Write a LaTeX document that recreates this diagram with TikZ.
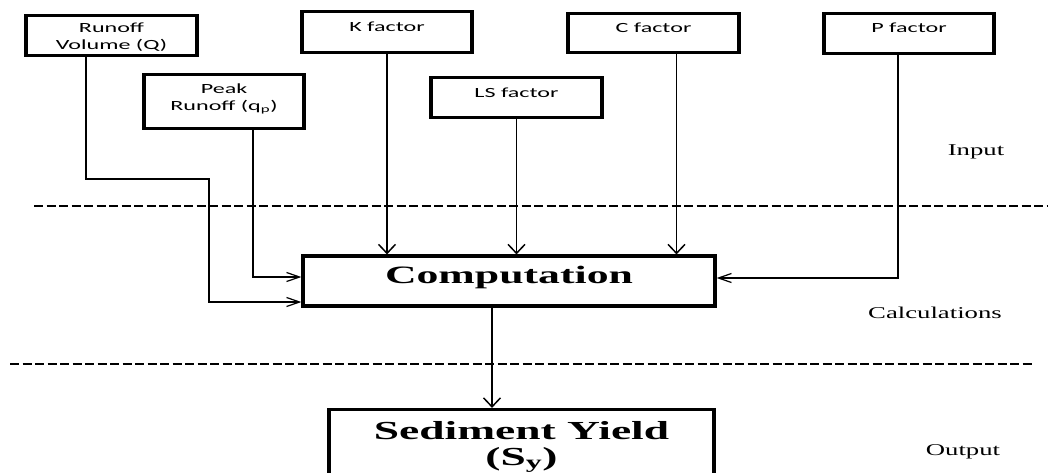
\documentclass[tikz,border=0pt]{standalone}
\usepackage{fontspec}
\usetikzlibrary{arrows.meta,calc}
\newfontfamily\boxfont[FakeStretch=1.72]{Carlito}
\newfontfamily\bigfont[FakeStretch=1.75]{Liberation Serif}
\newfontfamily\tagfont[FakeStretch=1.62]{Liberation Serif}
\begin{document}
\begin{tikzpicture}[x=1pt,y=-1pt,
  box/.style={draw, line width=3.2pt, inner sep=0pt},
  lbl/.style={font=\boxfont\fontsize{14}{17}\selectfont, align=center, anchor=base, inner sep=0pt},
  big/.style={font=\bigfont\bfseries\fontsize{25}{26}\selectfont, align=center, anchor=base, inner sep=0pt},
  tag/.style={font=\tagfont\fontsize{16.5}{20}\selectfont, anchor=base, inner sep=0pt},
  conn/.style={line width=1.5pt},
  varr/.style={conn, -{Straight Barb[length=9pt,width=17pt,line width=1.5pt]}},
  harr/.style={conn, -{Straight Barb[length=13pt,width=9pt,line width=1.2pt]}},
  sep/.style={line width=1.3pt, dash pattern=on 9pt off 3.5pt}]
\useasboundingbox (0,0) rectangle (1048,472);
\fill[white] (0,0) rectangle (1048,472);

% input boxes
\node[box, minimum width=171pt, minimum height=40pt] (rv) at (111.5,35.5) {};
\node[lbl] (rvt) at (111.5,49) {Runoff\\Volume (Q)};
\node[box, minimum width=160pt, minimum height=54pt] (pr) at (224,101.5) {};
\node[lbl] (prt) at (224,110) {Peak\\Runoff (q\textsubscript{p})};
\node[box, minimum width=170pt, minimum height=41pt] (kf) at (387,32) {};
\node[lbl] (kft) at (387,31) {K factor};
\node[box, minimum width=171pt, minimum height=40pt] (ls) at (516.5,97.5) {};
\node[lbl] (lst) at (516.5,97) {LS factor};
\node[box, minimum width=171pt, minimum height=39pt] (cf) at (653.5,33) {};
\node[lbl] (cft) at (653.5,32) {C factor};
\node[box, minimum width=170pt, minimum height=40pt] (pf) at (909,33.5) {};
\node[lbl] (pft) at (909,32) {P factor};

% computation and output
\node[box, minimum width=412pt, minimum height=50pt] (comp) at (509,281) {};
\node[big] (compt) at (509,283) {Computation};
\node[box, minimum width=385pt, minimum height=70pt] (sy) at (521.5,444.5) {};
\node[big, font=\bigfont\bfseries\fontsize{26}{26}\selectfont] (syt) at (521.5,465) {Sediment Yield\\(S\textsubscript{y})};

% section labels
\node[tag] (inp) at (976,155) {Input};
\node[tag] (calc) at (935,318) {Calculations};
\node[tag] (outp) at (963,455) {Output};

% separators
\draw[sep] (34,206) -- (1048,206);
\draw[sep] (10,364) -- (1032,364);

% connectors
\coordinate (rvs) at ($(rv.south)+(-25.5,0)$);
\coordinate (rvk) at (209,179);
\draw[harr] (rvs) |- (rvk) |- ($(comp.west)+(0,21)$);
\coordinate (prs) at ($(pr.south)+(29,0)$);
\draw[harr] (prs) |- ($(comp.west)+(0,-4)$);
\draw[varr] (kf.south) -- (kf.south |- comp.north);
\draw[varr] (ls.south) -- (ls.south |- comp.north);
\coordinate (cfs) at ($(cf.south)+(23,0)$);
\draw[varr] (cfs) -- (cfs |- comp.north);
\coordinate (pfs) at ($(pf.south)+(-11,0)$);
\draw[harr] (pfs) |- ($(comp.east)+(0,-3)$);
\coordinate (cps) at ($(comp.south)+(-17,0)$);
\draw[varr] (cps) -- (cps |- sy.north);
\end{tikzpicture}
\end{document}
